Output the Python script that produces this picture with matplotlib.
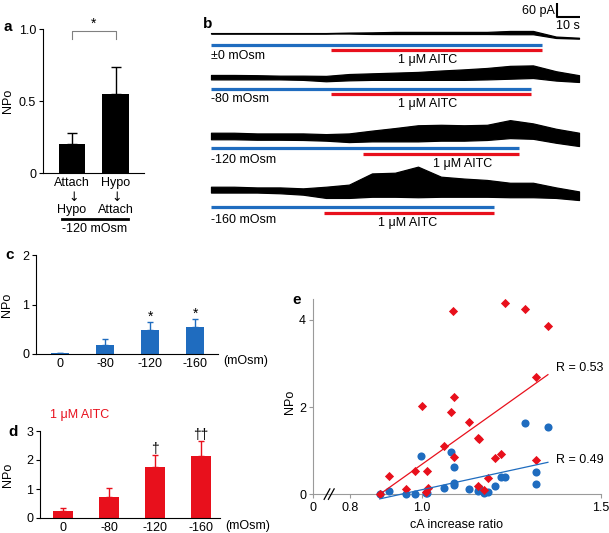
import numpy as np
import matplotlib
matplotlib.use("Agg")
import matplotlib.pyplot as plt
from matplotlib.lines import Line2D

plt.rcParams['font.family'] = ['Liberation Sans', 'DejaVu Sans']
plt.rcParams['font.size'] = 9

W, H = 609, 533
BLUE = '#1f6cbf'
RED = '#e8101c'

# --- a: patch configuration order, -120 mOsm
a_labels = ['Attach\n$\\downarrow$\nHypo', 'Hypo\n$\\downarrow$\nAttach']
a_npo = [0.20, 0.55]
a_sem = [0.075, 0.185]

# --- b: current traces, envelope read every 10 s (pA, relative to start)
trace_names = ['±0 mOsm', '-80 mOsm', '-120 mOsm', '-160 mOsm']
trace_t = [0, 10, 20, 30, 40, 50, 60, 70, 80, 90, 100, 110, 120, 130, 140, 150, 160]
trace_low = [
    [-1, -1, -1, -1, -1, -1, -1, -3, -3, -3, -3, -3, -3, -4, -4, -20, -23],
    [-9, -9, -9, -9, -11, -17, -13, -11, -11, -11, -11, -11, -9, -6, -3, -14, -20],
    [-11, -11, -13, -13, -14, -17, -23, -20, -20, -20, -17, -17, -14, -6, -9, -26, -40],
    [-11, -11, -11, -14, -20, -34, -34, -29, -29, -31, -29, -29, -29, -31, -31, -34, -43],
]
trace_high = [
    [1, 1, 1, 1, 1, 1, 3, 4, 6, 6, 6, 6, 6, 10, 10, -14, -19],
    [10, 10, 9, 7, 7, 6, 14, 17, 20, 23, 29, 34, 40, 49, 51, 26, 9],
    [17, 17, 14, 14, 14, 11, 14, 26, 37, 49, 51, 49, 51, 71, 57, 34, 17],
    [14, 14, 11, 11, 7, 14, 23, 71, 74, 100, 57, 49, 43, 31, 31, 11, -6],
]
hypo_end = [144, 139, 134, 123]     # s
aitc_start = [52, 52, 66, 49]       # s

# --- c, d: NPo vs osmolarity
osm_labels = ['0', '-80', '-120', '-160']
c_npo = [0.02, 0.18, 0.49, 0.54]
c_sem = [0.01, 0.12, 0.15, 0.16]
c_marks = ['', '', '*', '*']
d_npo = [0.25, 0.74, 1.75, 2.13]
d_sem = [0.11, 0.28, 0.41, 0.51]
d_marks = ['', '', '†', '††']

# --- e: NPo vs cA increase ratio
ratio_ctrl = [0.883, 0.909, 0.955, 0.981, 0.999, 1.011, 1.016, 1.062, 1.081, 1.089, 1.089, 1.089,
              1.132, 1.157, 1.160, 1.174, 1.185, 1.204, 1.220, 1.233, 1.287, 1.318, 1.318, 1.352]
npo_ctrl = [0.0, 0.06, 0.0, 0.0, 0.87, 0.02, 0.02, 0.15, 0.96, 0.63, 0.26, 0.20,
            0.11, 0.07, 0.14, 0.02, 0.05, 0.18, 0.40, 0.40, 1.63, 0.50, 0.24, 1.53]
ratio_aitc = [0.883, 0.909, 0.955, 0.981, 1.000, 1.011, 1.016, 1.019, 1.062, 1.081, 1.087, 1.089, 1.089,
              1.132, 1.157, 1.160, 1.157, 1.174, 1.185, 1.204, 1.220, 1.233, 1.287, 1.318, 1.318, 1.352]
npo_aitc = [0.0, 0.41, 0.11, 0.53, 2.03, 0.05, 0.53, 0.15, 1.10, 1.89, 4.20, 2.24, 0.85,
            1.66, 1.29, 1.27, 0.18, 0.09, 0.36, 0.82, 0.93, 4.38, 4.25, 2.69, 0.79, 3.85]
fit_aitc = (5.86, -5.18)
fit_ctrl = (1.79, -1.69)
fit_range = [0.883, 1.352]
r_aitc = 0.53
r_ctrl = 0.49

fig = plt.figure(figsize=(W / 100, H / 100), dpi=100)


def add_ax(l, t, r, b):
    return fig.add_axes([l / W, 1 - b / H, (r - l) / W, (b - t) / H])


def ftext(px, py, s, **kw):
    fig.text(px / W, 1 - py / H, s, **kw)


def panel_label(px, py, s):
    ftext(px, py, s, fontsize=11, fontweight='bold', va='center')


def ylabel_at(ax, px, l, r):
    # put the rotated y label so its right edge sits at pixel px
    ax.set_ylabel('NPo')
    ax.yaxis.set_label_coords((px - l) / (r - l), 0.5)


def bar_panel(ax, vals, sems, marks, color, ymax, ystep):
    x = np.arange(len(vals))
    ax.bar(x, vals, width=0.42, color=color)
    ax.errorbar(x, vals, yerr=[np.zeros(len(vals)), sems], fmt='none',
                ecolor=color, elinewidth=1, capsize=2.5)
    for xi, v, s, m in zip(x, vals, sems, marks):
        if m:
            ax.text(xi, v + s - ymax * 0.01, m, ha='center', va='bottom', fontsize=10)
    ax.set_xticks(x)
    ax.set_xticklabels(osm_labels)
    ax.set_ylim(0, ymax)
    ax.set_yticks(np.arange(0, ymax + 0.1, ystep))
    ax.tick_params(axis='x', length=0, pad=3)
    ax.tick_params(axis='y', length=3, pad=2)
    ax.spines[['top', 'right']].set_visible(False)


# ---------------- a
ax = add_ax(43, 29, 144, 173)
xa = np.arange(2)
ax.bar(xa, a_npo, width=0.6, color='black')
ax.errorbar(xa, a_npo, yerr=[np.zeros(2), a_sem], fmt='none', ecolor='black',
            elinewidth=1, capsize=3.6)
ax.set_xlim(-0.667, 1.655)
ax.set_ylim(0, 1)
ax.set_yticks([0, 0.5, 1.0])
ax.set_yticklabels(['0', '0.5', '1.0'])
ax.set_xticks(xa)
ax.set_xticklabels(a_labels, linespacing=1.05)
ax.tick_params(axis='x', length=0, pad=3)
ax.tick_params(axis='y', length=3, pad=2)
ax.spines[['top', 'right']].set_visible(False)
ylabel_at(ax, 14, 43, 144)
ax.plot([0, 0, 1, 1], [0.93, 0.984, 0.984, 0.93], color='gray', lw=0.8, clip_on=False)
ax.text(0.5, 0.99, '*', ha='center', va='bottom', fontsize=10)
fig.add_artist(Line2D([62 / W, 128 / W], [1 - 219 / H] * 2, color='black', lw=2))
ftext(95, 229, '-120 mOsm', ha='center', va='center')
panel_label(4, 27, 'a')

# ---------------- b
PX_S = 2.3          # px per second
PX_PA = 14 / 60     # px per pA
bx0, bx1, by0, by1 = 200, 600, 0, 230
axb = add_ax(bx0, by0, bx1, by1)
t0px = 211
axb.set_xlim((bx0 - t0px) / PX_S, (bx1 - t0px) / PX_S)
axb.set_ylim(0, (by1 - by0) / PX_PA)
axb.axis('off')


def tb(px):
    return (px - t0px) / PX_S


def ib(py):
    return (by1 - py) / PX_PA


base_py = [33.3, 77.3, 136.7, 190]
blue_py = [45, 89, 148, 207]
red_py = [50, 94, 154, 213]
name_py = [56, 99, 160, 220]
aitc_px = [428, 428, 463, 408]
aitc_py = [60, 104, 164, 223]
for k in range(4):
    off = ib(base_py[k])
    lo = np.array(trace_low[k]) + off
    hi = np.array(trace_high[k]) + off
    axb.fill_between(trace_t, lo, hi, color='black', lw=0.9, edgecolor='black')
    axb.plot([0, hypo_end[k]], [ib(blue_py[k])] * 2, color=BLUE, lw=2.3, solid_capstyle='butt')
    axb.plot([aitc_start[k], hypo_end[k]], [ib(red_py[k])] * 2, color=RED, lw=2.3,
             solid_capstyle='butt')
    axb.text(0, ib(name_py[k]), trace_names[k], ha='left', va='center', fontsize=9)
    axb.text(tb(aitc_px[k]), ib(aitc_py[k]), '1 μM AITC', ha='center', va='center', fontsize=9)

# scale bar 60 pA / 10 s
sx, sy = tb(557), ib(17)
axb.plot([sx, sx, sx + 10], [sy + 60, sy, sy], color='black', lw=1.5, solid_capstyle='butt')
axb.text(tb(555), ib(11), '60 pA', ha='right', va='center', fontsize=9)
axb.text(tb(568), ib(26), '10 s', ha='center', va='center', fontsize=9)
panel_label(203, 24, 'b')

# ---------------- c
axc = add_ax(36, 255, 218, 354)
bar_panel(axc, c_npo, c_sem, c_marks, BLUE, 2, 1)
axc.set_xlim(-0.533, 3.51)
ylabel_at(axc, 13, 36, 218)
ftext(223, 361, '(mOsm)', ha='left', va='center')
panel_label(5, 255, 'c')

# ---------------- d
axd = add_ax(40, 431, 220, 518)
bar_panel(axd, d_npo, d_sem, d_marks, RED, 3, 1)
axd.set_xlim(-0.5, 3.41)
ylabel_at(axd, 14, 40, 220)
ftext(225, 526, '(mOsm)', ha='left', va='center')
ftext(50, 415, '1 μM AITC', color=RED, ha='left', va='center')
panel_label(8, 432, 'd')

# ---------------- e
axe = add_ax(313, 299, 601, 505)
GRAY = '#9a9a9a'
axe.scatter(ratio_ctrl, npo_ctrl, s=34, color=BLUE, marker='o', zorder=3, linewidths=0)
axe.scatter(ratio_aitc, npo_aitc, s=22, color=RED, marker='D', zorder=4, linewidths=0)
fx = np.array(fit_range)
axe.plot(fx, fit_aitc[0] * fx + fit_aitc[1], color=RED, lw=0.9, zorder=5)
axe.plot(fx, fit_ctrl[0] * fx + fit_ctrl[1], color=BLUE, lw=0.9, zorder=5)
axe.text(1.375, fit_aitc[0] * fx[1] + fit_aitc[1] + 0.15, 'R = %.2f' % r_aitc, va='center', fontsize=9)
axe.text(1.375, fit_ctrl[0] * fx[1] + fit_ctrl[1] + 0.05, 'R = %.2f' % r_ctrl, va='center', fontsize=9)
xmin = 0.697
axe.set_xlim(xmin, 1.5)
axe.set_ylim(-0.25, 4.48)
axe.spines[['top', 'right']].set_visible(False)
axe.spines['bottom'].set_position(('data', 0))
axe.spines['left'].set_bounds(0, 4.48)
for s in ('left', 'bottom'):
    axe.spines[s].set_color(GRAY)
axe.set_xticks([xmin, 0.8, 1.0, 1.5])
axe.set_xticklabels(['0', '0.8', '1.0', '1.5'])
axe.set_yticks([0, 2, 4])
axe.tick_params(length=3, color=GRAY, pad=2)
axe.tick_params(axis='x', pad=3)
# axis break marks
for dx in (-0.006, 0.006):
    axe.plot([0.742 + dx - 0.008, 0.742 + dx + 0.008], [-0.12, 0.12], color='black',
             lw=0.9, clip_on=False, zorder=6)
axe.set_ylabel('NPo', labelpad=2)
ftext(457, 525, 'cA increase ratio', ha='center', va='center')
panel_label(292, 300, 'e')

fig.savefig('out.png', dpi=100)
